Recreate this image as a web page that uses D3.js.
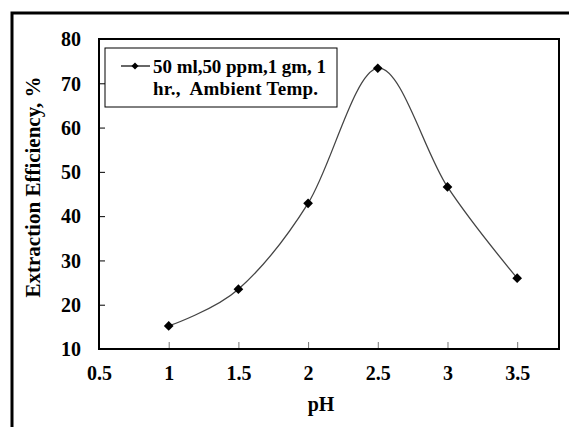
<!DOCTYPE html>
<html>
<head>
<meta charset="utf-8">
<script src="https://cdn.jsdelivr.net/npm/d3@7"></script>
<style>
    html, body { margin: 0; padding: 0; background: #fff; }
    svg { display: block; }
    text { font-family: "Times New Roman", "Liberation Serif", serif; font-weight: bold; fill: #000; }
</style>
</head>
<body>
<svg id="chart"></svg>
<script>
// data
var phValues = [1, 1.5, 2, 2.5, 3, 3.5];
var efficiency = [15.2, 23.5, 42.9, 73.4, 46.6, 26.0];
var xTicks = [0.5, 1, 1.5, 2, 2.5, 3, 3.5];
var yTicks = [10, 20, 30, 40, 50, 60, 70, 80];
var legendLines = ["50 ml,50 ppm,1 gm, 1", "hr.,  Ambient Temp."];

var width = 569, height = 427;
var plot = { left: 99, right: 559, top: 39, bottom: 349 };

var svg = d3.select("#chart")
    .attr("width", width)
    .attr("height", height);

// outer frame (runs off the right and bottom of the picture)
svg.append("rect")
    .attr("x", 12).attr("y", 13)
    .attr("width", 600).attr("height", 500)
    .style("fill", "none")
    .style("stroke", "#000")
    .style("stroke-width", 3);

var x = d3.scaleLinear().domain([0.5, 3.8]).range([plot.left, plot.right]);
var y = d3.scaleLinear().domain([10, 80]).range([plot.bottom, plot.top]);

// x axis: ticks point up into the plot
var xAxis = svg.append("g")
    .attr("transform", "translate(0," + plot.bottom + ")")
    .call(d3.axisBottom(x).tickValues(xTicks).tickSize(-7).tickPadding(0).tickFormat(d3.format("")));
xAxis.select(".domain").remove();
xAxis.selectAll(".tick line").style("stroke", "#777");
xAxis.selectAll(".tick text")
    .attr("y", 31).attr("dy", null)
    .style("font-size", "20px");

// y axis: ticks point right into the plot
var yAxis = svg.append("g")
    .attr("transform", "translate(" + plot.left + ",0)")
    .call(d3.axisLeft(y).tickValues(yTicks).tickSize(-6).tickPadding(0));
yAxis.select(".domain").remove();
yAxis.selectAll(".tick line").style("stroke", "#000");
yAxis.selectAll(".tick text")
    .attr("x", -18)
    .attr("dy", "0.34em")
    .style("font-size", "20px");

// plot box
svg.append("rect")
    .attr("x", plot.left).attr("y", plot.top)
    .attr("width", plot.right - plot.left)
    .attr("height", plot.bottom - plot.top)
    .style("fill", "none")
    .style("stroke", "#000")
    .style("stroke-width", 2);

// smoothed line
var line = d3.line()
    .x(function(d, i) { return x(phValues[i]); })
    .y(function(d) { return y(d); })
    .curve(d3.curveCatmullRom.alpha(0));

svg.append("path")
    .datum(efficiency)
    .attr("d", line)
    .style("fill", "none")
    .style("stroke", "#444")
    .style("stroke-width", 1.3);

// diamond markers
var diamond = d3.symbol().type(d3.symbolDiamond2).size(60);
svg.selectAll(".pt")
    .data(efficiency)
    .enter()
    .append("path")
    .attr("class", "pt")
    .attr("d", diamond)
    .attr("transform", function(d, i) {
        return "translate(" + x(phValues[i]) + "," + y(d) + ")";
    })
    .style("fill", "#000");

// legend
var legend = svg.append("g");
legend.append("rect")
    .attr("x", 105).attr("y", 48)
    .attr("width", 232).attr("height", 59)
    .style("fill", "#fff")
    .style("stroke", "#000")
    .style("stroke-width", 1);
legend.append("line")
    .attr("x1", 121).attr("x2", 150)
    .attr("y1", 66).attr("y2", 66)
    .style("stroke", "#000")
    .style("stroke-width", 1.2);
legend.append("path")
    .attr("d", d3.symbol().type(d3.symbolDiamond2).size(32))
    .attr("transform", "translate(135,66)")
    .style("fill", "#000");
legend.selectAll(".lg")
    .data(legendLines)
    .enter()
    .append("text")
    .attr("class", "lg")
    .attr("x", 153)
    .attr("y", function(d, i) { return 73 + i * 22; })
    .attr("textLength", function(d, i) { return i === 0 ? 173 : 165; })
    .attr("lengthAdjust", "spacing")
    .style("white-space", "pre")
    .style("font-size", "19px")
    .text(function(d) { return d; });

// axis titles
svg.append("text")
    .attr("x", 321).attr("y", 411)
    .attr("text-anchor", "middle")
    .style("font-size", "20px")
    .text("pH");

svg.append("text")
    .attr("transform", "translate(40,187) rotate(-90)")
    .attr("text-anchor", "middle")
    .style("font-size", "21px")
    .text("Extraction Efficiency, %");
</script>
</body>
</html>
